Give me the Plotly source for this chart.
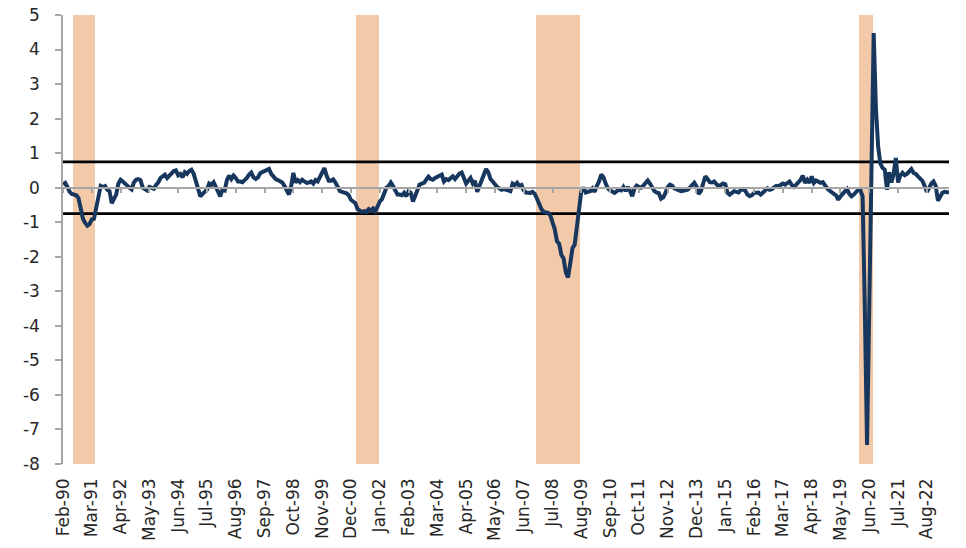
import pandas as pd
import plotly.graph_objects as go

# ---------------- data ----------------
start_month = "1990-02-01"

values = [
    # m0-m79
    0.10, 0.14, 0.02, -0.12, -0.18, -0.20, -0.22, -0.30, -0.55, -0.90,
    -1.02, -1.10, -1.05, -0.92, -0.90, -0.55, -0.15, 0.05, 0.02, 0.05,
    -0.06, -0.10, -0.45, -0.35, -0.20, 0.12, 0.23, 0.18, 0.10, 0.06,
    0.00, -0.05, 0.15, 0.23, 0.25, 0.22, 0.00, -0.06, -0.08, 0.02,
    0.00, -0.03, 0.08, 0.15, 0.28, 0.35, 0.38, 0.28, 0.35, 0.42,
    0.48, 0.50, 0.36, 0.40, 0.30, 0.45, 0.40, 0.48, 0.52, 0.40,
    0.15, -0.05, -0.25, -0.18, -0.10, -0.06, 0.12, 0.08, 0.16, 0.00,
    -0.12, -0.25, -0.05, -0.08, 0.22, 0.35, 0.25, 0.35, 0.28, 0.18,
    # m80-m156
    0.18, 0.16, 0.22, 0.28, 0.38, 0.44, 0.30, 0.25, 0.30, 0.42,
    0.45, 0.48, 0.50, 0.54, 0.40, 0.30, 0.25, 0.22, 0.20, 0.15,
    0.05, -0.10, -0.20, 0.05, 0.43, 0.15, 0.22, 0.16, 0.23, 0.18,
    0.14, 0.15, 0.18, 0.12, 0.22, 0.18, 0.30, 0.40, 0.57, 0.35,
    0.20, 0.20, 0.24, 0.15, 0.04, -0.10, -0.12, -0.14, -0.16, -0.22,
    -0.35, -0.40, -0.45, -0.62, -0.66, -0.70, -0.68, -0.70, -0.62, -0.66,
    -0.60, -0.68, -0.55, -0.40, -0.33, -0.12, 0.00, 0.05, 0.15, 0.05,
    -0.10, -0.20, -0.20, -0.22, -0.15, -0.25, -0.10,
    # m157-m243
    -0.15, -0.40, -0.25, -0.05, 0.09, 0.12, 0.14, 0.23, 0.32, 0.25,
    0.23, 0.28, 0.32, 0.35, 0.38, 0.18, 0.25, 0.22, 0.28, 0.33,
    0.25, 0.35, 0.41, 0.44, 0.28, 0.12, 0.20, 0.28, 0.12, 0.20,
    -0.12, 0.05, 0.15, 0.35, 0.54, 0.45, 0.25, 0.18, 0.08, 0.02,
    -0.02, -0.06, -0.04, -0.06, -0.05, -0.10, 0.12, 0.08, 0.14, 0.05,
    0.08, -0.08, -0.14, -0.16, -0.15, -0.12, -0.18, -0.32, -0.50, -0.62,
    -0.70, -0.72, -0.73, -0.80, -1.00, -1.20, -1.55, -1.62, -1.95, -2.05,
    -2.45, -2.60, -2.20, -1.75, -1.65, -1.10, -0.45, -0.10, 0.00, -0.14,
    -0.12, -0.10, -0.02, -0.12, 0.05, 0.18, 0.38,
    # m244-m318
    0.30, 0.12, -0.02, -0.08, -0.12, -0.15, -0.10, -0.06, -0.08, 0.02,
    -0.10, 0.02, -0.10, -0.25, -0.02, 0.06, 0.02, 0.00, 0.06, 0.14,
    0.21, 0.12, 0.02, -0.10, -0.14, -0.16, -0.32, -0.28, -0.15, 0.02,
    0.09, 0.06, -0.02, -0.05, -0.06, -0.10, -0.09, -0.08, -0.06, 0.00,
    0.09, 0.14, 0.04, -0.18, -0.10, 0.10, 0.33, 0.25, 0.16, 0.15,
    0.18, 0.10, 0.04, 0.08, 0.12, 0.10, -0.15, -0.20, -0.15, -0.10,
    -0.12, -0.14, -0.06, -0.05, -0.08, -0.20, -0.24, -0.22, -0.15, -0.13,
    -0.14, -0.20, -0.12, -0.08, -0.02,
    # m319-m365
    -0.06, -0.04, -0.01, 0.05, 0.04, 0.08, 0.12, 0.09, 0.12, 0.18,
    0.08, 0.02, 0.09, 0.15, 0.23, 0.35, 0.14, 0.23, 0.14, 0.33,
    0.14, 0.21, 0.18, 0.14, 0.16, 0.05, -0.02, -0.08, -0.15, -0.18,
    -0.22, -0.35, -0.25, -0.18, -0.10, -0.04, -0.18, -0.25, -0.20, -0.12,
    -0.06, -0.08, -0.25, -3.50, -7.45, -3.50, 0.50,
    # m366-m400
    4.48, 2.30, 1.20, 0.70, 0.57, 0.52, -0.06, 0.45, 0.15, 0.40,
    0.86, 0.15, 0.35, 0.43, 0.36, 0.40, 0.47, 0.54, 0.43, 0.40,
    0.33, 0.28, 0.20, 0.05, -0.12, -0.02, 0.12, 0.18, 0.05, -0.38,
    -0.25, -0.15, -0.12, -0.12, -0.14,
]

recession_start = ["Jul-90", "Mar-01", "Dec-07", "Feb-20"]
recession_end = ["Apr-91", "Dec-01", "Jul-09", "Jul-20"]

threshold = 0.75
label_step = 13

y_ticks = [5, 4, 3, 2, 1, 0, -1, -2, -3, -4, -5, -6, -7, -8]
y_min, y_max = -8, 5

# ---------------- derived ----------------
months = pd.date_range(start_month, periods=len(values), freq="MS")
month_labels = [d.strftime("%b-%y") for d in months]
idx = list(range(len(values)))

tick_idx = idx[::label_step]
tick_text = [month_labels[i] for i in tick_idx]

rec_x = []
for s, e in zip(recession_start, recession_end):
    a, b = month_labels.index(s), month_labels.index(e)
    rec_x.extend(range(a, b + 1))

FONT = "DejaVu Sans"
GRAY = "#a6a6a6"
NAVY = "#17375e"
PEACH = "#f2c9a9"
TXT = "#262626"

fig = go.Figure()

# recession shading as bars spanning full y range
fig.add_trace(go.Bar(
    x=rec_x, y=[y_max - y_min] * len(rec_x), base=[y_min] * len(rec_x),
    width=1, marker=dict(color=PEACH, line=dict(width=0)),
    hoverinfo="skip", showlegend=False, xaxis="x", yaxis="y",
))

# threshold lines
for lvl in (threshold, -threshold):
    fig.add_trace(go.Scatter(
        x=[idx[0], idx[-1]], y=[lvl, lvl], mode="lines",
        line=dict(color="black", width=2.8),
        hoverinfo="skip", showlegend=False, xaxis="x2", yaxis="y",
    ))

# main series
fig.add_trace(go.Scatter(
    x=idx, y=values, mode="lines",
    line=dict(color=NAVY, width=4),
    showlegend=False, xaxis="x2", yaxis="y",
    text=month_labels, hovertemplate="%{text}: %{y}<extra></extra>",
))

xr = [idx[0], idx[-1]]

fig.update_layout(
    width=966, height=548,
    margin=dict(l=63, r=17, t=15, b=84, autoexpand=False),
    paper_bgcolor="white", plot_bgcolor="white",
    bargap=0,
    font=dict(family=FONT, size=17, color=TXT),
    xaxis=dict(
        range=xr, tickmode="array", tickvals=tick_idx, ticktext=tick_text,
        tickangle=-90, showline=False, showgrid=False, zeroline=False,
        ticks="", ticklabelstandoff=10, automargin=False,
        ticklabeloverflow="allow",
        tickfont=dict(family=FONT, size=17, color=TXT),
    ),
    xaxis2=dict(
        range=xr, overlaying="x", anchor="free", position=(0 - y_min) / (y_max - y_min),
        tickmode="array", tickvals=tick_idx, showticklabels=False,
        showline=True, linecolor=GRAY, linewidth=1.5,
        ticks="outside", ticklen=5, tickwidth=1.5, tickcolor=GRAY,
        showgrid=False, zeroline=False, side="bottom", automargin=False,
    ),
    yaxis=dict(
        range=[y_min, y_max], tickmode="array", tickvals=y_ticks,
        ticktext=[str(v) for v in y_ticks],
        showline=True, linecolor=GRAY, linewidth=1.5,
        ticks="outside", ticklen=6, tickwidth=1.5, tickcolor=GRAY,
        showgrid=False, zeroline=False, ticklabelstandoff=12, automargin=False,
        ticklabeloverflow="allow",
        tickfont=dict(family=FONT, size=17, color=TXT),
    ),
)

# remove the browser's default 8px body margin so the figure fills the window
fig.write_html(
    "out.html",
    config={"displayModeBar": False},
    post_script="document.body.style.margin='0';document.body.style.overflow='hidden';",
)
